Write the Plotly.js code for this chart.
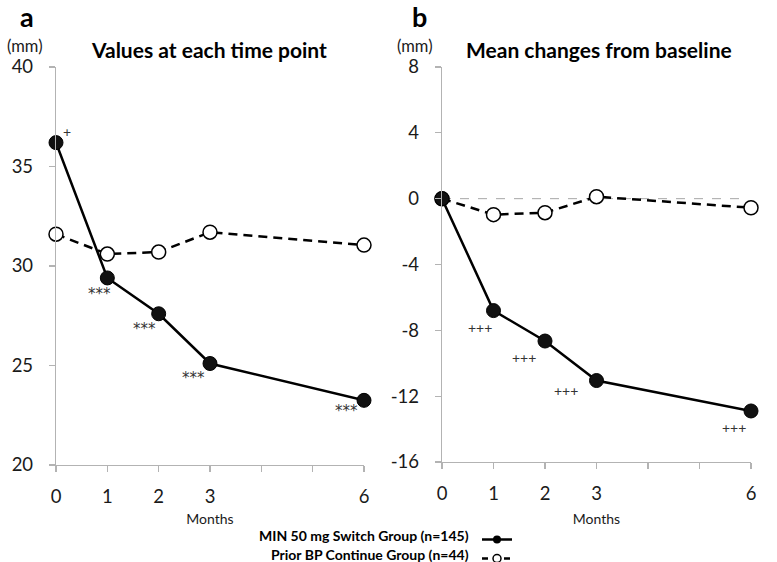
<!DOCTYPE html>
<html>
<head>
<meta charset="utf-8">
<script src="https://cdn.plot.ly/plotly-3.0.1.min.js"></script>
<style>html,body{margin:0;padding:0;background:#fff;}#chart{width:777px;height:562px;}</style>
</head>
<body>
<div id="chart"></div>
<script>
// ---- data ----
const months = [0, 1, 2, 3, 6];
const switchValues = [36.2, 29.4, 27.6, 25.1, 23.25];
const continueValues = [31.6, 30.6, 30.7, 31.7, 31.05];
const switchChange = [0, -6.8, -8.65, -11.05, -12.9];
const continueChange = [0, -0.97, -0.85, 0.12, -0.55];
const xTickVals = [0, 1, 2, 3, 4, 5, 6];
const xTickText = ['0', '1', '2', '3', '', '', '6'];
const yTicksA = [20, 25, 30, 35, 40];
const yTicksB = [-16, -12, -8, -4, 0, 4, 8];
const sigA = ['+', '***', '***', '***', '***'];
const sigB = ['', '+++', '+++', '+++', '+++'];
const seriesNames = ['MIN 50 mg Switch Group (n=145)', 'Prior BP Continue Group (n=44)'];
const panelTitles = ['Values at each time point', 'Mean changes from baseline'];
const panelLetters = ['a', 'b'];
const unitLabel = '(mm)';
const xTitle = 'Months';

// ---- styles ----
const FONT = 'Lato, "Open Sans", sans-serif';
const W = 777, H = 562;
const px = v => v / W, py = v => 1 - v / H;

const solidLine = {color: '#000', width: 2.5};
const dashLine = {color: '#000', width: 2.5, dash: '9px,6px'};
const filledMarker = {size: 14, color: '#111', line: {color: '#000', width: 1}};
const openMarker = {size: 14, color: '#fff', line: {color: '#000', width: 1.5}};

function trace(x, y, xa, ya, line, marker) {
  return {x: x, y: y, xaxis: xa, yaxis: ya, type: 'scatter', mode: 'lines+markers',
    line: line, marker: marker, showlegend: false, cliponaxis: false, hoverinfo: 'skip'};
}

const data = [
  trace(months, continueValues, 'x', 'y', dashLine, openMarker),
  trace(months, switchValues, 'x', 'y', solidLine, filledMarker),
  trace(months, continueChange, 'x2', 'y2', dashLine, openMarker),
  trace(months, switchChange, 'x2', 'y2', solidLine, filledMarker),
  // legend glyphs
  {x: [null], y: [null], xaxis: 'x2', yaxis: 'y2', type: 'scatter', mode: 'lines+markers', name: ' ',
   line: {color: '#000', width: 2.5}, marker: {size: 8, color: '#000'}, showlegend: true},
  {x: [null], y: [null], xaxis: 'x2', yaxis: 'y2', type: 'scatter', mode: 'lines+markers', name: ' ',
   line: {color: '#000', width: 2.5, dash: '6px,5px'}, marker: {size: 8, color: '#fff', line: {color: '#000', width: 1.5}}, showlegend: true}
];

const axisCommon = {
  showgrid: false, zeroline: false, showline: true, linecolor: '#b3b3b3', linewidth: 1.2,
  ticks: 'outside', ticklen: 6, tickcolor: '#b3b3b3', tickwidth: 1.2, automargin: false,
  tickfont: {family: FONT, size: 18.5, color: '#1a1a1a'}, fixedrange: true
};
function xAxis(domain, anchor, standoff) {
  return Object.assign({}, axisCommon, {
    domain: domain, anchor: anchor,
    range: [0, 6], tickmode: 'array', tickvals: xTickVals, ticktext: xTickText, ticklabelstandoff: 9,
    title: {text: xTitle, font: {family: FONT, size: 14, color: '#1a1a1a'}, standoff: standoff}
  });
}

const layout = {
  width: W, height: H, margin: {l: 0, r: 0, t: 0, b: 0, autoexpand: false},
  paper_bgcolor: '#fff', plot_bgcolor: 'rgba(0,0,0,0)',
  showlegend: true,
  legend: {x: px(477), y: py(573), xanchor: 'left', yanchor: 'bottom', bgcolor: 'rgba(0,0,0,0)',
    font: {family: FONT, size: 11}, itemwidth: 30, tracegroupgap: 0},
  xaxis: xAxis([px(56), px(364)], 'y', 7),
  yaxis: Object.assign({}, axisCommon, {domain: [py(465), py(67)], range: [20, 40], tickmode: 'array',
    tickvals: yTicksA, ticktext: yTicksA.map(String), ticklabelstandoff: 12, anchor: 'x'}),
  xaxis2: xAxis([px(442), px(751)], 'y2', 10),
  yaxis2: Object.assign({}, axisCommon, {domain: [py(462), py(67)], range: [-16, 8], tickmode: 'array',
    tickvals: yTicksB, ticktext: yTicksB.map(String), ticklabelstandoff: 12, anchor: 'x2'}),
  shapes: [
    {type: 'line', xref: 'x2', yref: 'y2', x0: 0, x1: 5.85, y0: 0, y1: 0,
     line: {color: '#a6a6a6', width: 1, dash: 'dash'}, layer: 'below'}
  ],
  annotations: []
};

const ann = layout.annotations;
const letterPos = [[27, 17], [419, 17]];
const unitPos = [[25, 46], [415, 46]];
const titleX = [209, 599];
[0, 1].forEach(i => {
  ann.push({xref: 'paper', yref: 'paper', x: px(letterPos[i][0]), y: py(letterPos[i][1]), text: '<b>' + panelLetters[i] + '</b>',
    showarrow: false, font: {family: FONT, size: 27, color: '#000'}, xanchor: 'center', yanchor: 'middle'});
  ann.push({xref: 'paper', yref: 'paper', x: px(unitPos[i][0]), y: py(unitPos[i][1]), text: unitLabel,
    showarrow: false, font: {family: FONT, size: 16.5, color: '#1a1a1a'}, xanchor: 'center', yanchor: 'middle'});
  ann.push({xref: 'paper', yref: 'paper', x: px(titleX[i]), y: py(49), text: '<b>' + panelTitles[i] + '</b>',
    showarrow: false, font: {family: FONT, size: 21, color: '#000'}, xanchor: 'center', yanchor: 'middle'});
});

// significance marks
const shiftA = [[11, 11], [-8, -16], [-14, -15], [-17, -14], [-18, -11]];
const shiftB = [[0, 0], [-14, -17], [-21, -16], [-31, -10], [-17, -17]];
months.forEach((m, i) => {
  if (sigA[i]) ann.push({xref: 'x', yref: 'y', x: m, y: switchValues[i], text: sigA[i], showarrow: false,
    xshift: shiftA[i][0], yshift: shiftA[i][1],
    font: {family: i === 0 ? FONT : '"DejaVu Sans", sans-serif', size: i === 0 ? 14 : 15, color: '#333'}});
  if (sigB[i]) ann.push({xref: 'x2', yref: 'y2', x: m, y: switchChange[i], text: sigB[i], showarrow: false,
    xshift: shiftB[i][0], yshift: shiftB[i][1], font: {family: FONT, size: 14, color: '#333'}});
});

// legend labels (text sits to the left of the glyphs)
[535, 554].forEach((yy, i) => {
  ann.push({xref: 'paper', yref: 'paper', x: px(471), y: py(yy), text: '<b>' + seriesNames[i] + '</b>',
    showarrow: false, xanchor: 'right', yanchor: 'middle', font: {family: FONT, size: 14, color: '#000'}});
});

Plotly.newPlot('chart', data, layout, {displayModeBar: false, staticPlot: true});
</script>
</body>
</html>
